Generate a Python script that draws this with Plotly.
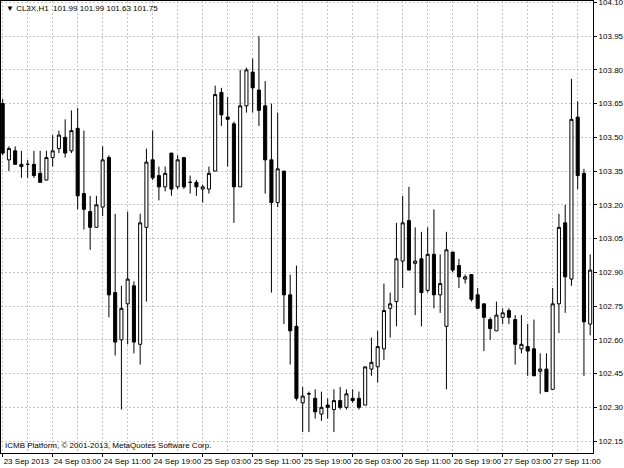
import plotly.graph_objects as go
import pandas as pd

# Bar times (H1), first bar 23 Sep 2013 19:00
first_bar = "2013-09-23 19:00"
n_bars = 95
times = pd.date_range(first_bar, periods=n_bars, freq="h")

opens = [103.65, 103.40, 103.44, 103.38, 103.38, 103.38, 103.34, 103.31, 103.41, 103.45,
         103.50, 103.44, 103.54, 103.25, 103.17, 103.10, 103.19, 103.41, 102.81, 102.60,
         102.76, 102.84, 102.58, 103.10, 103.40, 103.33, 103.28, 103.43, 103.28, 103.41,
         103.30, 103.30, 103.27, 103.27, 103.35, 103.70, 103.59, 103.56, 103.28, 103.64,
         103.79, 103.71, 103.64, 103.40, 103.21, 103.35, 102.80, 102.66, 102.32, 102.36,
         102.34, 102.27, 102.31, 102.29, 102.33, 102.30, 102.34, 102.34, 102.31, 102.47,
         102.48, 102.56, 102.74, 102.77, 102.95, 103.13, 102.94, 102.96, 102.82, 102.98,
         102.80, 102.66, 102.99, 102.93, 102.87, 102.89, 102.80, 102.76, 102.69, 102.64,
         102.70, 102.73, 102.69, 102.56, 102.57, 102.56, 102.46, 102.47, 102.38, 102.76,
         103.12, 102.87, 103.59, 103.34, 102.67]
highs = [103.67, 103.46, 103.46, 103.44, 103.40, 103.44, 103.44, 103.44, 103.51, 103.53,
         103.58, 103.62, 103.63, 103.53, 103.24, 103.24, 103.46, 103.42, 103.16, 102.84,
         103.17, 102.86, 103.16, 103.45, 103.53, 103.37, 103.37, 103.43, 103.42, 103.41,
         103.33, 103.31, 103.29, 103.37, 103.73, 103.72, 103.68, 103.57, 103.80, 103.81,
         103.85, 103.95, 103.75, 103.65, 103.61, 103.35, 102.89, 102.93, 102.39, 102.37,
         102.38, 102.37, 102.34, 102.38, 102.39, 102.38, 102.38, 102.37, 102.48, 102.61,
         102.64, 102.85, 102.81, 103.12, 103.24, 103.28, 103.10, 103.08, 103.10, 103.18,
         102.98, 103.08, 102.99, 102.96, 102.89, 102.89, 102.83, 102.76, 102.70, 102.77,
         102.74, 102.74, 102.71, 102.71, 102.67, 102.69, 102.54, 102.54, 102.83, 103.16,
         103.20, 103.76, 103.66, 103.36, 102.98]
lows = [103.42, 103.35, 103.38, 103.32, 103.32, 103.32, 103.30, 103.31, 103.37, 103.43,
        103.41, 103.43, 103.18, 103.09, 103.00, 103.10, 103.15, 102.70, 102.53, 102.29,
        102.58, 102.54, 102.49, 102.77, 103.31, 103.22, 103.26, 103.24, 103.27, 103.27,
        103.25, 103.24, 103.21, 103.25, 103.35, 103.55, 103.37, 103.12, 103.28, 103.61,
        103.61, 103.55, 103.25, 102.81, 103.19, 102.67, 102.49, 102.33, 102.19, 102.19,
        102.25, 102.24, 102.25, 102.19, 102.29, 102.29, 102.32, 102.29, 102.31, 102.44,
        102.41, 102.51, 102.61, 102.66, 102.83, 102.91, 102.71, 102.66, 102.81, 102.74,
        102.72, 102.38, 102.90, 102.83, 102.85, 102.77, 102.74, 102.55, 102.60, 102.64,
        102.67, 102.67, 102.49, 102.54, 102.44, 102.44, 102.36, 102.37, 102.38, 102.63,
        102.72, 102.84, 103.27, 102.44, 102.62]
closes = [103.43, 103.45, 103.38, 103.37, 103.38, 103.33, 103.30, 103.41, 103.44, 103.51,
          103.43, 103.53, 103.24, 103.18, 103.10, 103.20, 103.40, 102.80, 102.59, 102.74,
          102.87, 102.59, 103.12, 103.39, 103.32, 103.28, 103.34, 103.27, 103.40, 103.28,
          103.30, 103.28, 103.28, 103.34, 103.69, 103.60, 103.58, 103.28, 103.64, 103.80,
          103.72, 103.62, 103.40, 103.21, 103.36, 102.80, 102.64, 102.34, 102.35, 102.36,
          102.28, 102.30, 102.30, 102.33, 102.30, 102.36, 102.33, 102.30, 102.48, 102.50,
          102.57, 102.73, 102.76, 102.96, 103.12, 102.91, 102.95, 102.81, 102.98, 102.80,
          102.85, 103.00, 102.91, 102.88, 102.88, 102.78, 102.74, 102.70, 102.65, 102.71,
          102.72, 102.70, 102.58, 102.58, 102.55, 102.44, 102.47, 102.37, 102.76, 103.10,
          102.88, 103.58, 103.33, 102.68, 102.91]

# Time axis labels
x_tick_times = ["2013-09-23 19:00", "2013-09-24 03:00", "2013-09-24 11:00", "2013-09-24 19:00",
                "2013-09-25 03:00", "2013-09-25 11:00", "2013-09-25 19:00", "2013-09-26 03:00",
                "2013-09-26 11:00", "2013-09-26 19:00", "2013-09-27 03:00", "2013-09-27 11:00"]
x_tick_text = ["23 Sep 2013", "24 Sep 03:00", "24 Sep 11:00", "24 Sep 19:00", "25 Sep 03:00",
               "25 Sep 11:00", "25 Sep 19:00", "26 Sep 03:00", "26 Sep 11:00", "26 Sep 19:00",
               "27 Sep 03:00", "27 Sep 11:00"]
x_minor_times = ["2013-09-23 23:00", "2013-09-24 07:00", "2013-09-24 15:00", "2013-09-24 23:00",
                 "2013-09-25 07:00", "2013-09-25 15:00", "2013-09-25 23:00", "2013-09-26 07:00",
                 "2013-09-26 15:00", "2013-09-26 23:00", "2013-09-27 07:00", "2013-09-27 15:00"]

y_tick_vals = [102.15, 102.30, 102.45, 102.60, 102.75, 102.90, 103.05, 103.20,
               103.35, 103.50, 103.65, 103.80, 103.95, 104.10]
y_tick_text = ["102.15", "102.30", "102.45", "102.60", "102.75", "102.90", "103.05", "103.20",
               "103.35", "103.50", "103.65", "103.80", "103.95", "104.10"]

header_text = "\u25bc CL3X,H1  101.99 101.99 101.63 101.75"
footer_text = "ICMB Platform, \u00a9 2001-2013, MetaQuotes Software Corp."

FONT = "Liberation Sans"
FS = 8
GRID = "#c4c4c4"

fig = go.Figure()
fig.add_trace(go.Candlestick(
    x=times, open=opens, high=highs, low=lows, close=closes,
    increasing=dict(fillcolor="#ffffff", line=dict(color="#000000", width=1)),
    decreasing=dict(fillcolor="#000000", line=dict(color="#000000", width=1)),
    whiskerwidth=0, showlegend=False, hoverinfo="skip",
))

x_start = pd.Timestamp(first_bar) - pd.Timedelta(minutes=16)
x_end = pd.Timestamp(first_bar) + pd.Timedelta(hours=94, minutes=27)

fig.update_layout(
    width=624, height=468,
    margin=dict(l=1, r=31, t=1, b=15, autoexpand=False),
    paper_bgcolor="#ffffff", plot_bgcolor="#ffffff",
    font=dict(family=FONT, size=FS, color="#000000"),
    boxgap=0.3,
    showlegend=False,
    xaxis=dict(
        type="date",
        range=[x_start, x_end],
        rangeslider=dict(visible=False),
        tickmode="array", tickvals=x_tick_times, ticktext=x_tick_text,
        tickangle=0,
        ticklabelposition="outside right",
        ticklabeloverflow="allow",
        ticks="outside", ticklen=3, tickcolor="#000000",
        showgrid=True, gridcolor=GRID, griddash="2px,2px", gridwidth=1,
        minor=dict(tickmode="array", tickvals=x_minor_times, showgrid=True,
                   gridcolor=GRID, griddash="2px,2px", ticks=""),
        showline=True, linecolor="#000000", linewidth=1, mirror=True,
        zeroline=False, fixedrange=True, automargin=False,
        tickfont=dict(family=FONT, size=FS, color="#000000"),
    ),
    yaxis=dict(
        side="right",
        range=[102.097, 104.106],
        tickmode="array", tickvals=y_tick_vals, ticktext=y_tick_text,
        ticklabeloverflow="allow",
        ticks="outside", ticklen=3, tickcolor="#000000",
        showgrid=True, gridcolor=GRID, griddash="2px,2px", gridwidth=1,
        showline=True, linecolor="#000000", linewidth=1, mirror=True,
        zeroline=False, fixedrange=True, automargin=False,
        tickfont=dict(family=FONT, size=FS, color="#000000"),
    ),
    annotations=[
        dict(text=header_text, xref="paper", yref="paper", x=0.005, y=0.998,
             xanchor="left", yanchor="top", showarrow=False,
             font=dict(family=FONT, size=FS, color="#000000")),
        dict(text=footer_text, xref="paper", yref="paper", x=0.003, y=0.002,
             xanchor="left", yanchor="bottom", showarrow=False,
             font=dict(family=FONT, size=FS, color="#000000")),
    ],
)

fig.write_html(
    "out.html",
    config={"displayModeBar": False},
    post_script="document.body.style.margin='0';document.body.style.overflow='hidden';",
)
